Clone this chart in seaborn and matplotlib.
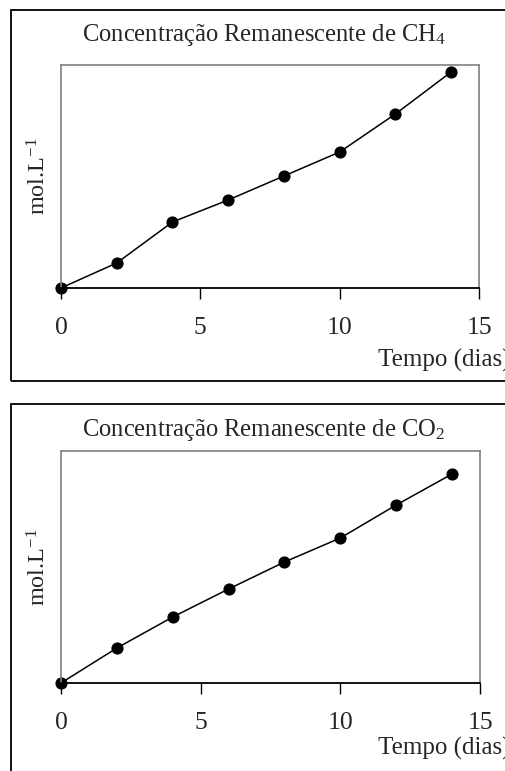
import matplotlib
matplotlib.use("Agg")
import matplotlib.pyplot as plt
import matplotlib.patches as mpatches
import pandas as pd
import seaborn as sns

# tempo (dias) e concentração remanescente (unidades arbitrárias)
tempo = [0, 2, 4, 6, 8, 10, 12, 14]
ch4 = [0, 25, 66, 88, 112, 136, 174, 216]
co2 = [0, 35, 66, 94, 121, 145, 178, 209]
xticks = [0, 5, 10, 15]

titulos = [r'Concentração Remanescente de CH$_4$', r'Concentração Remanescente de CO$_2$']
ylabel = r'mol.L$^{-1}$'
xlabel = 'Tempo (dias)'

sns.set_style('white')
plt.rcParams['font.family'] = ['Liberation Serif', 'DejaVu Serif']
plt.rcParams['mathtext.fontset'] = 'custom'
plt.rcParams['mathtext.rm'] = 'Liberation Serif'
plt.rcParams['mathtext.it'] = 'Liberation Serif'

W, H = 505, 771
fig = plt.figure(figsize=(W / 100, H / 100), dpi=100)

# (left, top, right, bottom) em pixels, ymax, título y, borda
paineis = [
    dict(box=(61, 65, 479, 288), ymax=223, vals=ch4, ty=35, xl=360, border=(11, 10, 520, 381)),
    dict(box=(61, 451, 480, 683), ymax=232, vals=co2, ty=430, xl=748, border=(11, 404, 520, 790)),
]

for i, p in enumerate(paineis):
    l, t, r, b = p['box']
    ax = fig.add_axes([l / W, 1 - b / H, (r - l) / W, (b - t) / H])
    df = pd.DataFrame({'tempo': tempo, 'conc': p['vals']})
    sns.lineplot(data=df, x='tempo', y='conc', ax=ax, color='black', lw=1.1,
                 marker='o', markersize=8, markeredgecolor='black',
                 markerfacecolor='black', clip_on=False)
    ax.set_xlim(0, 15)
    ax.set_ylim(0, p['ymax'])
    ax.set_xticks(xticks)
    ax.set_yticks([])
    ax.tick_params(axis='x', direction='out', length=8, width=1, color='black',
                   bottom=True, labelsize=18.5, pad=13)
    for s in ['left', 'top', 'right']:
        ax.spines[s].set_color('#808080')
        ax.spines[s].set_linewidth(1.2)
    ax.spines['bottom'].set_color('black')
    ax.spines['bottom'].set_linewidth(1.3)
    ax.set_ylabel(ylabel, fontsize=17.5)
    ax.yaxis.set_label_coords((50 - l) / (r - l), 0.5)
    ax.set_xlabel(xlabel, fontsize=18, ha='left', va='center')
    ax.xaxis.set_label_coords((378 - l) / (r - l), (b - p['xl']) / (b - t))

    fig.text(264 / W, 1 - p['ty'] / H, titulos[i], ha='center', va='center', fontsize=17.7)

    bl, bt, br, bb = p['border']
    fig.patches.append(mpatches.Rectangle((bl / W, 1 - bb / H), (br - bl) / W, (bb - bt) / H,
                                          transform=fig.transFigure, fill=False,
                                          edgecolor='black', lw=1.3))

fig.savefig('out.png', dpi=100, facecolor='white')
